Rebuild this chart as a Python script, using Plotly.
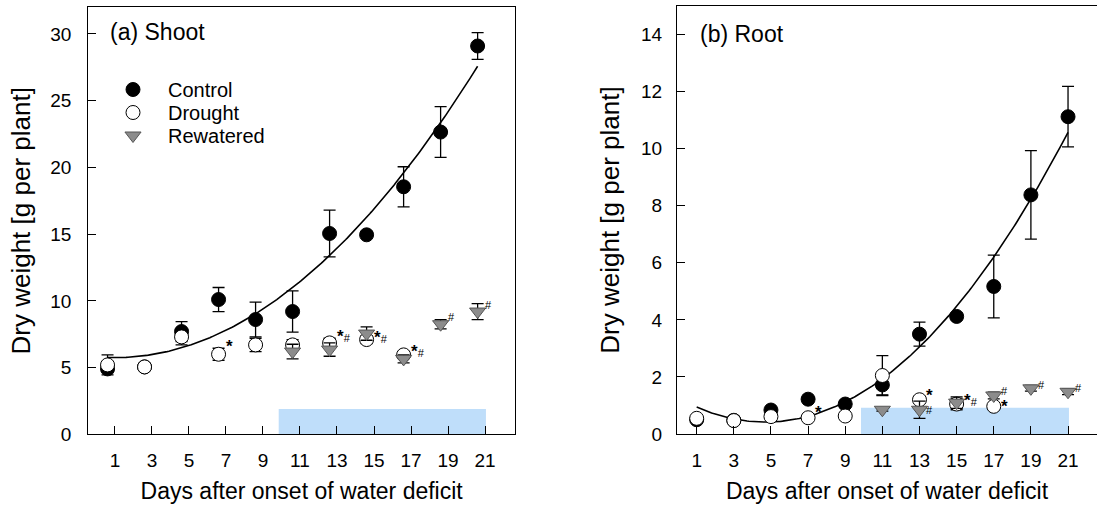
import numpy as np
import plotly.graph_objects as go

# ---------------- data ----------------
days = [1, 3, 5, 7, 9, 11, 13, 15, 17, 19, 21]
drought_days = [1, 3, 5, 7, 9, 11, 13, 15, 17]
rewater_days = [11, 13, 15, 17, 19, 21]
tick_labels = ["1", "3", "5", "7", "9", "11", "13", "15", "17", "19", "21"]

# (a) Shoot
shoot_control = [4.9, 5.05, 7.7, 10.1, 8.6, 9.2, 15.05, 14.95, 18.55, 22.65, 29.1]
shoot_control_err = [0.2, 0.2, 0.75, 0.9, 1.3, 1.55, 1.75, 0.25, 1.5, 1.9, 1.0]
shoot_drought = [5.2, 5.05, 7.3, 6.0, 6.7, 6.7, 6.85, 7.1, 5.95]
shoot_drought_err = [0.75, 0.2, 0.6, 0.45, 0.5, 0.4, 0.35, 0.3, 0.25]
shoot_rewatered = [6.2, 6.35, 7.55, 5.65, 8.25, 9.2]
shoot_rewatered_err = [0.55, 0.5, 0.5, 0.3, 0.35, 0.6]

# (b) Root
root_control = [0.5, 0.48, 0.84, 1.22, 1.05, 1.72, 3.5, 4.12, 5.17, 8.38, 11.12]
root_control_err = [0.08, 0.05, 0.08, 0.08, 0.1, 0.35, 0.42, 0.12, 1.1, 1.55, 1.06]
root_drought = [0.55, 0.47, 0.61, 0.57, 0.63, 2.05, 1.2, 1.05, 0.97]
root_drought_err = [0.1, 0.05, 0.05, 0.05, 0.05, 0.7, 0.12, 0.2, 0.05]
root_rewatered = [0.85, 0.85, 1.1, 1.35, 1.6, 1.48]
root_rewatered_err = [0.05, 0.3, 0.2, 0.12, 0.1, 0.1]

# significance marks: (day, y, text)
shoot_marks = [(7, 6.84, "*"), (13, 7.55, "*#"), (15, 7.5, "*#"), (17, 6.4, "*#"),
               (19, 9.0, "#"), (21, 9.9, "#")]
root_marks = [(7, 0.87, "*"), (13, 1.45, "*"), (13, 0.94, "#"), (15, 1.29, "*#"),
              (17, 1.6, "#"), (17, 1.08, "*"), (19, 1.83, "#"), (21, 1.72, "#")]

# water-deficit period band
deficit_start, deficit_end = 9.85, 21.05
shoot_band_top, root_band_top = 1.9, 0.92

# ---------------- style ----------------
FONT = "Liberation Sans, Arial, sans-serif"
SHOOT_X_SHIFT = -0.4      # shoot symbols sit slightly left of the tick marks
BAND_COLOR = "#bfdefa"
REW_FILL = "#8c8c8c"
REW_LINE = "#555555"

fig = go.Figure()


def add_panel(xa, ya, xs, ctrl, ctrl_e, dr, dr_e, rw, rw_e, show_legend):
    d_all = np.array(days, dtype=float) + xs
    d_dr = np.array(drought_days, dtype=float) + xs
    d_rw = np.array(rewater_days, dtype=float) + xs
    # second-order polynomial fitted to the control series
    coef = np.polyfit(np.array(days, dtype=float), np.array(ctrl), 2)
    xfit = np.linspace(days[0], days[-1], 200)
    fig.add_trace(go.Scatter(x=xfit + xs, y=np.polyval(coef, xfit), mode="lines",
                             line=dict(color="black", width=1.6), showlegend=False,
                             xaxis=xa, yaxis=ya, hoverinfo="skip"))
    fig.add_trace(go.Scatter(x=d_all, y=ctrl, mode="markers", name="Control",
                             marker=dict(symbol="circle", size=14, color="black",
                                         line=dict(color="black", width=1)),
                             error_y=dict(type="data", array=ctrl_e, color="black",
                                          thickness=1.3, width=6),
                             showlegend=show_legend, legend="legend", xaxis=xa, yaxis=ya))
    fig.add_trace(go.Scatter(x=d_dr, y=dr, mode="markers", name="Drought",
                             marker=dict(symbol="circle", size=14, color="white",
                                         line=dict(color="black", width=1)),
                             error_y=dict(type="data", array=dr_e, color="black",
                                          thickness=1.3, width=6),
                             showlegend=show_legend, legend="legend2", xaxis=xa, yaxis=ya))
    fig.add_trace(go.Scatter(x=d_rw, y=rw, mode="markers", name="Rewatered",
                             marker=dict(symbol="triangle-down", size=14, color=REW_FILL,
                                         line=dict(color=REW_LINE, width=1)),
                             error_y=dict(type="data", array=rw_e, color="black",
                                          thickness=1.3, width=6),
                             showlegend=show_legend, legend="legend3", xaxis=xa, yaxis=ya))


add_panel("x", "y", SHOOT_X_SHIFT, shoot_control, shoot_control_err,
          shoot_drought, shoot_drought_err, shoot_rewatered, shoot_rewatered_err, True)
add_panel("x2", "y2", 0.0, root_control, root_control_err,
          root_drought, root_drought_err, root_rewatered, root_rewatered_err, False)

# deficit band
fig.add_shape(type="rect", xref="x", yref="y", x0=deficit_start, x1=deficit_end,
              y0=0, y1=shoot_band_top, fillcolor=BAND_COLOR, line=dict(width=0), layer="below")
fig.add_shape(type="rect", xref="x2", yref="y2", x0=deficit_start, x1=deficit_end,
              y0=0, y1=root_band_top, fillcolor=BAND_COLOR, line=dict(width=0), layer="below")


def mark_text(t):
    out = ""
    for ch in t:
        if ch == "#":
            out += "<span style='font-size:11px'>#</span>"
        else:
            out += "<b>*</b>"
    return out


for d, yv, t in shoot_marks:
    fig.add_annotation(x=d + SHOOT_X_SHIFT, y=yv, xref="x", yref="y", text=mark_text(t),
                       showarrow=False, xanchor="left", yanchor="middle", xshift=5, yshift=-3,
                       font=dict(family=FONT, size=17, color="black"))
for d, yv, t in root_marks:
    fig.add_annotation(x=d, y=yv, xref="x2", yref="y2", text=mark_text(t),
                       showarrow=False, xanchor="left", yanchor="middle", xshift=5, yshift=-3,
                       font=dict(family=FONT, size=17, color="black"))

# panel labels
fig.add_annotation(text="(a) Shoot", x=0.0, y=30.0, xref="x domain", yref="y",
                   xanchor="left", yanchor="middle", xshift=20, yshift=2, showarrow=False,
                   font=dict(family=FONT, size=23, color="black"))
fig.add_annotation(text="(b) Root", x=0.0, y=14.0, xref="x2 domain", yref="y2",
                   xanchor="left", yanchor="middle", xshift=21, yshift=1, showarrow=False,
                   font=dict(family=FONT, size=23, color="black"))

axis_common = dict(showline=True, linecolor="black", linewidth=1.3, ticks="inside",
                   ticklen=8, tickwidth=1.2, tickcolor="black", showgrid=False,
                   zeroline=False, automargin=False,
                   tickfont=dict(family=FONT, size=19, color="black"))

xtitle_font = dict(family=FONT, size=23, color="black")
ytitle_font = dict(family=FONT, size=26, color="black")
legend_common = dict(xanchor="left", yanchor="top", bgcolor="rgba(0,0,0,0)",
                     font=dict(family=FONT, size=20, color="black"), itemwidth=60)

fig.update_layout(
    width=1097, height=506, margin=dict(l=0, r=0, t=0, b=0, autoexpand=False),
    paper_bgcolor="white", plot_bgcolor="white",
    xaxis=dict(domain=[88.3 / 1097, 515 / 1097], range=[-0.44, 22.62],
               tickvals=days, ticktext=tick_labels, mirror=True, anchor="y",
               ticklabelstandoff=9,
               title=dict(text="Days after onset of water deficit", standoff=12,
                          font=xtitle_font),
               **axis_common),
    yaxis=dict(domain=[1 - 434.3 / 506, 1 - 7.3 / 506], range=[0, 32],
               tickvals=[0, 5, 10, 15, 20, 25, 30],
               mirror=True, anchor="x", ticklabelstandoff=12,
               title=dict(text="Dry weight [g per plant]", standoff=12, font=ytitle_font),
               **axis_common),
    xaxis2=dict(domain=[677 / 1097, 1.0], range=[-0.06, 22.56],
                tickvals=days, ticktext=tick_labels, mirror=True, anchor="y2",
                ticklabelstandoff=9,
                title=dict(text="Days after onset of water deficit", standoff=12,
                           font=xtitle_font),
                **axis_common),
    yaxis2=dict(domain=[1 - 434 / 506, 1 - 6 / 506], range=[0, 15],
                tickvals=[0, 2, 4, 6, 8, 10, 12, 14],
                mirror=False, anchor="x2", ticklabelstandoff=10,
                title=dict(text="Dry weight [g per plant]", standoff=13, font=ytitle_font),
                **axis_common),
    legend=dict(x=98 / 1097, y=1 - 70 / 506, **legend_common),
    legend2=dict(x=98 / 1097, y=1 - 93 / 506, **legend_common),
    legend3=dict(x=98 / 1097, y=1 - 116 / 506, **legend_common),
    showlegend=True,
)

fig.write_html("out.html", config={"displayModeBar": False},
               post_script="document.body.style.margin='0';document.body.style.padding='0';")
